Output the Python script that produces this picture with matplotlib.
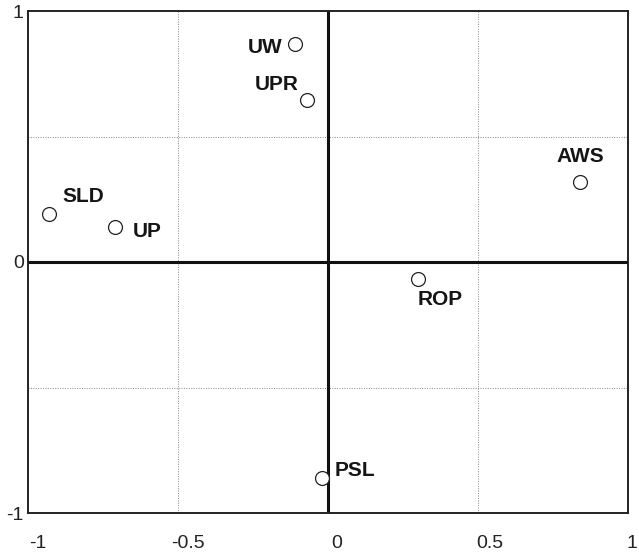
import matplotlib
matplotlib.use("Agg")
import matplotlib.pyplot as plt
from matplotlib.transforms import ScaledTranslation

labels = ["SLD", "UP", "UW", "UPR", "AWS", "ROP", "PSL"]
xs = [-0.93, -0.71, -0.11, -0.07, 0.84, 0.30, -0.02]
ys = [0.19, 0.14, 0.87, 0.645, 0.32, -0.067, -0.86]
# label offsets in points (text placement relative to marker)
offsets = [(25, 13, "center"), (13, -3, "left"), (-9, -3, "right"),
           (-6, 11, "right"), (0, 18, "center"), (0, -15, "left"), (9, 5, "left")]

xticks = [-1, -0.5, 0, 0.5, 1]
yticks = [-1, 0, 1]
xtick_labels = ["-1", "-0.5", "0", "0.5", "1"]
ytick_labels = ["-1", "0", "1"]

fig = plt.figure(figsize=(6.39, 5.55), dpi=100)
ax = fig.add_axes([28/639, 1 - 513/555, 600/639, 502/555])
ax.set_xlim(-1, 1)
ax.set_ylim(-1, 1)

for v in (-0.5, 0.5):
    ax.axvline(v, color="#888888", lw=0.7, ls=(0, (1, 1.5)), zorder=1)
    ax.axhline(v, color="#888888", lw=0.7, ls=(0, (1, 1.5)), zorder=1)
ax.axvline(0, color="#111111", lw=2.2, zorder=2)
ax.axhline(0, color="#111111", lw=2.2, zorder=2)

ax.plot(xs, ys, ls="none", marker="o", ms=10, mfc="white", mec="#222222",
        mew=0.9, zorder=3)
for lab, x, y, (dx, dy, ha) in zip(labels, xs, ys, offsets):
    ax.annotate(lab, (x, y), xytext=(dx, dy), textcoords="offset points",
                ha=ha, va="center", fontsize=15, fontweight="bold",
                family="Liberation Sans", color="#151515", zorder=4)

ax.set_xticks(xticks)
ax.set_xticklabels(xtick_labels, family="Liberation Sans", fontsize=14, color="#222222")
ax.set_yticks(yticks)
ax.set_yticklabels(ytick_labels, family="Liberation Sans", fontsize=14, color="#222222")
ax.tick_params(length=0)
ax.tick_params(axis="x", pad=16)
ax.tick_params(axis="y", pad=3)
shifts = [10, 10, 9, 12, 4]
for t, s in zip(ax.get_xticklabels(), shifts):
    t.set_transform(t.get_transform() + ScaledTranslation(s/100, 0, fig.dpi_scale_trans))

for s in ax.spines.values():
    s.set_linewidth(1.4)
    s.set_color("#222222")

fig.savefig("out.png", dpi=100)
